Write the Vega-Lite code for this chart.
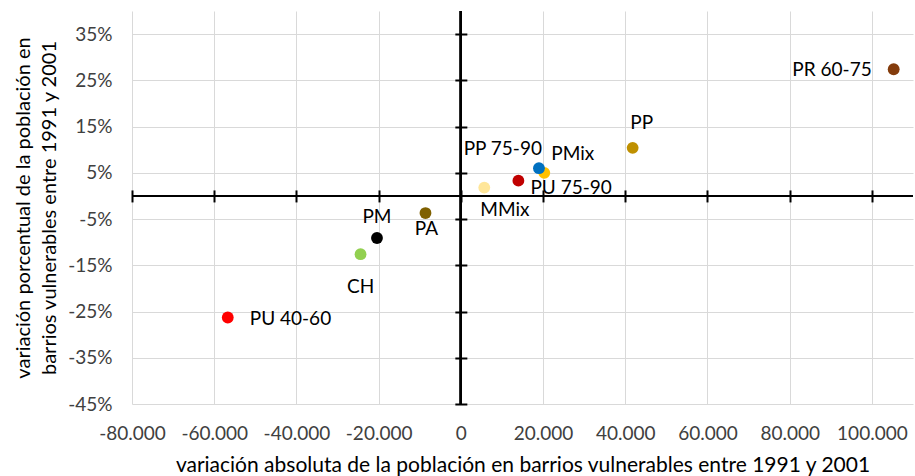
{
  "$schema": "https://vega.github.io/schema/vega-lite/v6.json",
  "width": 781,
  "height": 393,
  "autosize": {"type": "none"},
  "padding": {"left": 132, "top": 11, "right": 2, "bottom": 72},
  "config": {
    "view": {"stroke": null},
    "font": "Lato",
    "locale": {"number": {"decimal": ",", "thousands": ".", "grouping": [3], "currency": ["", " €"], "minus": "-"}}
  },
  "data": {"values": [
    {"grupo": "PR 60-75", "abs": 105300, "pct": 0.274},
    {"grupo": "PP", "abs": 41800, "pct": 0.104},
    {"grupo": "PMix", "abs": 20300, "pct": 0.050},
    {"grupo": "PP 75-90", "abs": 19000, "pct": 0.060},
    {"grupo": "PU 75-90", "abs": 14000, "pct": 0.033},
    {"grupo": "MMix", "abs": 5700, "pct": 0.018},
    {"grupo": "PA", "abs": -8600, "pct": -0.037},
    {"grupo": "PM", "abs": -20400, "pct": -0.091},
    {"grupo": "CH", "abs": -24400, "pct": -0.126},
    {"grupo": "PU 40-60", "abs": -56700, "pct": -0.263}
  ]},
  "resolve": {"axis": {"x": "independent", "y": "independent"}},
  "layer": [
    {
      "encoding": {
        "x": {"field": "abs", "type": "quantitative",
          "scale": {"domain": [-80000, 110000], "nice": false, "zero": false},
          "axis": {"orient": "bottom", "values": [-80000, -60000, -40000, -20000, 0, 20000, 40000, 60000, 80000, 100000],
            "format": ",.0f", "grid": true, "gridColor": "#d9d9d9", "gridWidth": 1, "domain": false, "ticks": false,
            "labelFont": "Lato", "labelFontSize": 19, "labelColor": "#404040", "labelPadding": 20,
            "labelFlush": false, "labelOverlap": false,
            "title": "variación absoluta de la población en barrios vulnerables entre 1991 y 2001",
            "titleFont": "Lato", "titleFontSize": 21, "titleFontWeight": "normal", "titleColor": "#000000", "titlePadding": 11}},
        "y": {"field": "pct", "type": "quantitative",
          "scale": {"domain": [-0.45, 0.40], "nice": false, "zero": false},
          "axis": {"orient": "left", "values": [-0.45, -0.35, -0.25, -0.15, -0.05, 0.05, 0.15, 0.25, 0.35],
            "format": ".0%", "grid": true, "gridColor": "#d9d9d9", "gridWidth": 1, "domain": false, "ticks": false,
            "labelFont": "Lato", "labelFontSize": 19, "labelColor": "#404040", "labelPadding": 20,
            "labelFlush": false, "labelOverlap": false,
            "title": ["variación porcentual de la población en", "barrios vulnerables entre 1991 y 2001"],
            "titleFont": "Lato", "titleFontSize": 20, "titleFontWeight": "normal", "titleColor": "#000000",
            "titlePadding": 8, "titleLineHeight": 26}}
      },
      "layer": [
        {
          "mark": {"type": "point", "filled": true, "opacity": 1, "size": 140},
          "encoding": {
            "color": {"field": "grupo", "type": "nominal", "legend": null,
              "scale": {"domain": ["PR 60-75", "PP", "PP 75-90", "PMix", "PU 75-90", "MMix", "PA", "PM", "CH", "PU 40-60"],
                "range": ["#843c0c", "#bf9000", "#0070c0", "#ffc000", "#c00000", "#ffe699", "#7f6000", "#000000", "#92d050", "#ff0000"]}}
          }
        },
        {"transform": [{"filter": "datum.grupo === 'PR 60-75'"}],
          "mark": {"type": "text", "align": "right", "baseline": "alphabetic", "dx": -22, "dy": 7, "fontSize": 19, "font": "Lato", "color": "#000000"},
          "encoding": {"text": {"field": "grupo"}}},
        {"transform": [{"filter": "datum.grupo === 'PP'"}],
          "mark": {"type": "text", "align": "center", "baseline": "alphabetic", "dx": 9, "dy": -19, "fontSize": 19, "font": "Lato", "color": "#000000"},
          "encoding": {"text": {"field": "grupo"}}},
        {"transform": [{"filter": "datum.grupo === 'PP 75-90'"}],
          "mark": {"type": "text", "align": "right", "baseline": "alphabetic", "dx": 3, "dy": -13, "fontSize": 19, "font": "Lato", "color": "#000000"},
          "encoding": {"text": {"field": "grupo"}}},
        {"transform": [{"filter": "datum.grupo === 'PMix'"}],
          "mark": {"type": "text", "align": "left", "baseline": "alphabetic", "dx": 7, "dy": -13, "fontSize": 19, "font": "Lato", "color": "#000000"},
          "encoding": {"text": {"field": "grupo"}}},
        {"transform": [{"filter": "datum.grupo === 'PU 75-90'"}],
          "mark": {"type": "text", "align": "left", "baseline": "alphabetic", "dx": 12, "dy": 13, "fontSize": 19, "font": "Lato", "color": "#000000"},
          "encoding": {"text": {"field": "grupo"}}},
        {"transform": [{"filter": "datum.grupo === 'MMix'"}],
          "mark": {"type": "text", "align": "left", "baseline": "alphabetic", "dx": -4, "dy": 28, "fontSize": 19, "font": "Lato", "color": "#000000"},
          "encoding": {"text": {"field": "grupo"}}},
        {"transform": [{"filter": "datum.grupo === 'PA'"}],
          "mark": {"type": "text", "align": "center", "baseline": "alphabetic", "dx": 1, "dy": 22, "fontSize": 19, "font": "Lato", "color": "#000000"},
          "encoding": {"text": {"field": "grupo"}}},
        {"transform": [{"filter": "datum.grupo === 'PM'"}],
          "mark": {"type": "text", "align": "center", "baseline": "alphabetic", "dx": 0, "dy": -15, "fontSize": 19, "font": "Lato", "color": "#000000"},
          "encoding": {"text": {"field": "grupo"}}},
        {"transform": [{"filter": "datum.grupo === 'CH'"}],
          "mark": {"type": "text", "align": "center", "baseline": "alphabetic", "dx": 0, "dy": 39, "fontSize": 19, "font": "Lato", "color": "#000000"},
          "encoding": {"text": {"field": "grupo"}}},
        {"transform": [{"filter": "datum.grupo === 'PU 40-60'"}],
          "mark": {"type": "text", "align": "left", "baseline": "alphabetic", "dx": 22, "dy": 7, "fontSize": 19, "font": "Lato", "color": "#000000"},
          "encoding": {"text": {"field": "grupo"}}}
      ]
    },
    {
      "layer": [
        {
          "mark": {"type": "rule", "color": "#000000", "strokeWidth": 2},
          "encoding": {
            "y": {"datum": 0, "type": "quantitative",
              "scale": {"domain": [-0.45, 0.40], "nice": false, "zero": false},
              "axis": {"orient": "right", "values": [-0.45, -0.35, -0.25, -0.15, -0.05, 0.05, 0.15, 0.25, 0.35],
                "offset": {"expr": "scale('x', 0) - 6 - width"},
                "grid": false, "domain": false, "labels": false, "ticks": true, "tickSize": 12, "tickWidth": 2, "tickColor": "#000000", "title": null}}
          }
        },
        {
          "mark": {"type": "rule", "color": "#000000", "strokeWidth": 2},
          "encoding": {
            "x": {"datum": 0, "type": "quantitative",
              "scale": {"domain": [-80000, 110000], "nice": false, "zero": false},
              "axis": {"orient": "top", "values": [-80000, -60000, -40000, -20000, 0, 20000, 40000, 60000, 80000, 100000],
                "offset": {"expr": "-(scale('y', 0) + 6)"},
                "grid": false, "domain": false, "labels": false, "ticks": true, "tickSize": 12, "tickWidth": 2, "tickColor": "#000000", "title": null}}
          }
        }
      ]
    }
  ]
}
